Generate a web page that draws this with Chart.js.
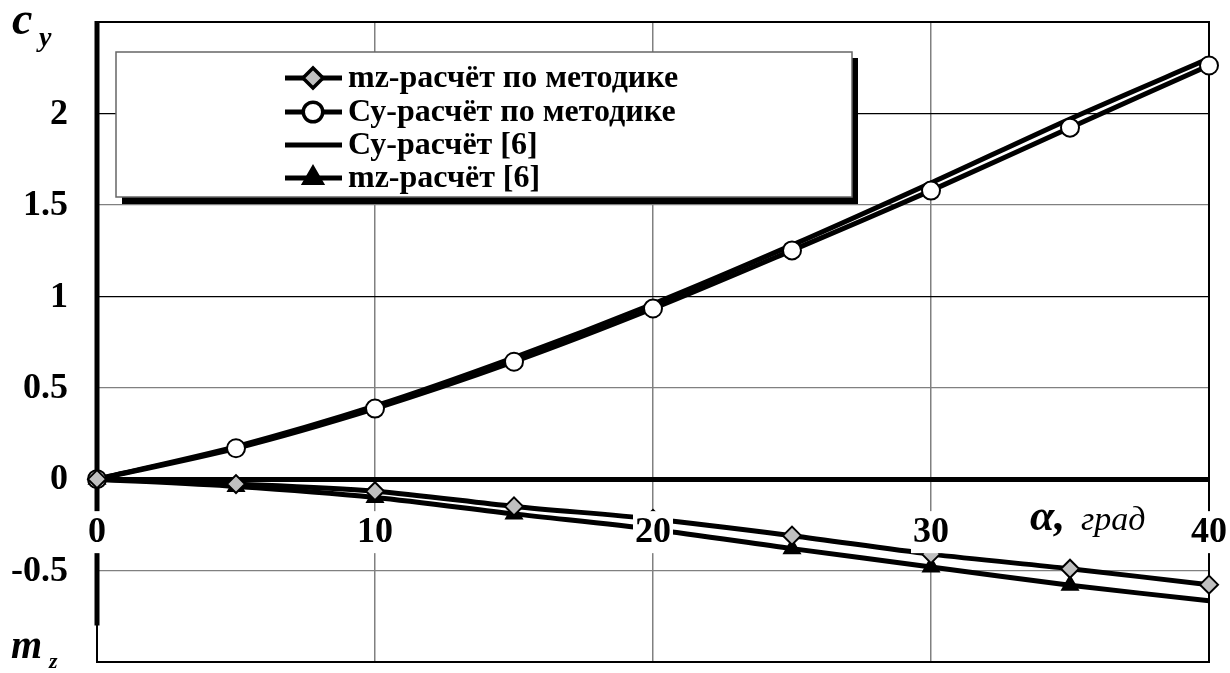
<!DOCTYPE html>
<html lang="ru">
<head>
    <meta charset="UTF-8">
    <title>cy, mz (alpha)</title>
    <script src="https://cdn.jsdelivr.net/npm/chart.js"></script>
    <style>
        body { margin: 0; background: #ffffff; }
        canvas { display: block; }
    </style>
</head>
<body>
    <canvas id="grafico" width="1230" height="673"></canvas>

    <script>
        // данные (угол атаки, град)
        const alphaDeg = [0, 5, 10, 15, 20, 25, 30, 35, 40];
        const mzMetodika = [0, -0.027, -0.066, -0.149, -0.218, -0.309, -0.41, -0.49, -0.577];
        const cyMetodika = [0, 0.169, 0.386, 0.642, 0.933, 1.251, 1.578, 1.922, 2.262];
        const cyRef6 = [0, 0.178, 0.40, 0.665, 0.958, 1.28, 1.62, 1.97, 2.30];
        const mzRef6 = [0, -0.04, -0.10, -0.19, -0.275, -0.38, -0.48, -0.58, -0.665];
        const xTicks = [0, 10, 20, 30, 40];
        const yTicks = [-0.5, 0, 0.5, 1, 1.5, 2];
        const yHidden = [-1, 2.5];

        const nomes = ["mz-расчёт по методике", "Су-расчёт по методике", "Су-расчёт [6]", "mz-расчёт [6]"];
        const fonte = '"Liberation Serif", "Times New Roman", serif';

        const pts = (arr) => alphaDeg.map((a, i) => ({ x: a, y: arr[i] }));

        // рамка, подписи осей, легенда
        const decor = {
            id: 'decor',
            beforeDatasetsDraw(chart) {
                const ctx = chart.ctx, a = chart.chartArea, ys = chart.scales.y;
                ctx.save();
                ctx.strokeStyle = '#000';
                ctx.lineWidth = 2;
                ctx.strokeRect(a.left, a.top, a.right - a.left, a.bottom - a.top);
                ctx.lineWidth = 5;
                ctx.beginPath();
                ctx.moveTo(a.left, a.top - 1);
                ctx.lineTo(a.left, ys.getPixelForValue(-0.8));
                ctx.stroke();

                // подписи оси Y
                ctx.fillStyle = '#000';
                ctx.font = 'bold 36px ' + fonte;
                ctx.textAlign = 'right';
                ctx.textBaseline = 'middle';
                yTicks.forEach(v => ctx.fillText(String(v), 68, ys.getPixelForValue(v) + 1));
                ctx.restore();
            },
            afterDatasetsDraw(chart) {
                const ctx = chart.ctx, xs = chart.scales.x, ys = chart.scales.y;
                const y0 = ys.getPixelForValue(0) + 53;
                ctx.save();
                ctx.font = 'bold 36px ' + fonte;
                ctx.textAlign = 'center';
                ctx.textBaseline = 'middle';
                xTicks.forEach(v => {
                    const x = xs.getPixelForValue(v);
                    const w = ctx.measureText(String(v)).width + 4;
                    ctx.fillStyle = '#fff';
                    ctx.fillRect(x - w / 2, y0 - 21, w, 42);
                    ctx.fillStyle = '#000';
                    ctx.fillText(String(v), x, y0 + 1);
                });
                ctx.restore();
            },
            afterDraw(chart) {
                const ctx = chart.ctx;
                ctx.save();
                ctx.fillStyle = '#000';
                ctx.textBaseline = 'alphabetic';
                ctx.textAlign = 'left';
                // c_y
                ctx.font = 'italic bold 46px ' + fonte;
                ctx.fillText('c', 12, 34);
                ctx.font = 'italic bold 28px ' + fonte;
                ctx.fillText('y', 39, 46);
                // m_z
                ctx.font = 'italic bold 40px ' + fonte;
                ctx.fillText('m', 11, 658);
                ctx.font = 'italic bold 22px ' + fonte;
                ctx.fillText('z', 49, 668);
                // alpha, град
                ctx.font = 'italic bold 44px ' + fonte;
                ctx.fillText('α,', 1030, 530);
                ctx.font = 'italic 34px ' + fonte;
                ctx.fillText('град', 1081, 530);

                // легенда
                const bx = 116, by = 52, bw = 736, bh = 145;
                ctx.fillStyle = '#000';
                ctx.fillRect(bx + 6, by + bh, bw, 7);
                ctx.fillRect(bx + bw, by + 6, 6, bh);
                ctx.fillStyle = '#fff';
                ctx.fillRect(bx, by, bw, bh);
                ctx.strokeStyle = '#666';
                ctx.lineWidth = 1.5;
                ctx.strokeRect(bx, by, bw, bh);

                const linhas = [78, 112, 145, 178];
                chart.data.datasets.forEach((ds, i) => {
                    const y = linhas[i];
                    ctx.strokeStyle = '#000';
                    ctx.lineWidth = 5;
                    ctx.beginPath();
                    ctx.moveTo(285, y);
                    ctx.lineTo(342, y);
                    ctx.stroke();
                    if (ds.pointStyle && ds.legendMarker !== false) {
                        Chart.helpers.drawPoint(ctx, {
                            pointStyle: ds.pointStyle,
                            radius: 9,
                            rotation: 0,
                            borderWidth: 2
                        }, 313, y);
                        ctx.fillStyle = ds.pointBackgroundColor;
                        ctx.strokeStyle = '#000';
                        ctx.lineWidth = 2;
                        ctx.fill();
                        ctx.stroke();
                    }
                    ctx.fillStyle = '#000';
                    ctx.font = 'bold 32px ' + fonte;
                    ctx.textBaseline = 'middle';
                    ctx.fillText(ds.label, 348, y + 1);
                });
                ctx.restore();
            }
        };

        const comum = {
            borderColor: '#000',
            borderWidth: 5,
            tension: 0.3,
            pointBorderColor: '#000',
            pointBorderWidth: 2,
            pointRadius: 9,
            pointHoverRadius: 9,
            clip: false
        };

        new Chart(document.getElementById('grafico').getContext('2d'), {
            type: 'line',
            data: {
                datasets: [
                    Object.assign({}, comum, {
                        label: nomes[0],
                        data: pts(mzMetodika),
                        pointStyle: 'rectRot',
                        pointBackgroundColor: '#c0c0c0'
                    }),
                    Object.assign({}, comum, {
                        label: nomes[1],
                        data: pts(cyMetodika),
                        pointStyle: 'circle',
                        pointBackgroundColor: '#fff'
                    }),
                    Object.assign({}, comum, {
                        label: nomes[2],
                        data: pts(cyRef6),
                        pointStyle: false,
                        pointRadius: 0,
                        legendMarker: false
                    }),
                    Object.assign({}, comum, {
                        label: nomes[3],
                        data: pts(mzRef6),
                        pointStyle: 'triangle',
                        pointBackgroundColor: '#000',
                        pointRadius: [9, 9, 9, 9, 9, 9, 9, 9, 0]
                    })
                ]
            },
            options: {
                responsive: false,
                animation: false,
                layout: { padding: { top: 22, right: 21, bottom: 11, left: 0 } },
                plugins: {
                    legend: { display: false },
                    tooltip: { enabled: false }
                },
                scales: {
                    x: {
                        type: 'linear',
                        min: 0,
                        max: 40,
                        ticks: { display: false, stepSize: 10 },
                        border: { display: false },
                        grid: {
                            drawTicks: false,
                            lineWidth: 1.5,
                            color: (c) => (c.tick && (c.tick.value === 0 || c.tick.value === 40)) ? 'rgba(0,0,0,0)' : '#808080'
                        },
                        afterFit(s) { s.height = 0; }
                    },
                    y: {
                        min: -1,
                        max: 2.5,
                        ticks: { display: false, stepSize: 0.5 },
                        border: { display: false },
                        grid: {
                            drawTicks: false,
                            lineWidth: (c) => c.tick && c.tick.value === 0 ? 5 : 1.2,
                            color: (c) => {
                                const v = c.tick ? c.tick.value : null;
                                if (yHidden.includes(v)) return 'rgba(0,0,0,0)';
                                return Number.isInteger(v) ? '#000' : '#808080';
                            }
                        },
                        afterFit(s) { s.width = 97; }
                    }
                }
            },
            plugins: [decor]
        });
    </script>
</body>
</html>
